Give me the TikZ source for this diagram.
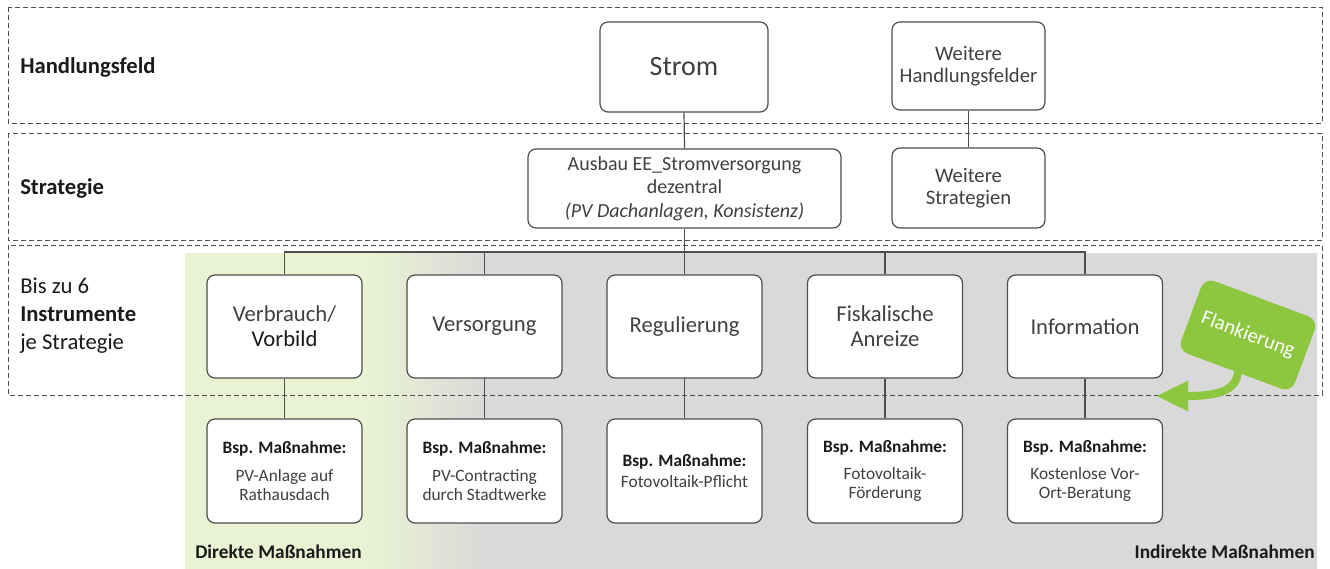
\documentclass[tikz,border=0pt]{standalone}
\usepackage{fontspec}
\setmainfont{Carlito}
\usetikzlibrary{arrows.meta}
\definecolor{lgreen}{HTML}{E9F2D2}
\definecolor{lgray}{HTML}{D9D9D9}
\definecolor{fgreen}{HTML}{8DC63F}
\definecolor{bord}{HTML}{4D4D4D}
\definecolor{txt}{HTML}{404040}
\definecolor{dashc}{HTML}{505050}
\definecolor{lbl}{HTML}{1A1A1A}
\begin{document}
\begin{tikzpicture}[x=0.75pt,y=-0.75pt,
  band/.style={draw=dashc,line width=0.75pt,dash pattern=on 3.75pt off 2.25pt},
  box/.style={draw=bord,line width=0.9pt,fill=white,rounded corners=6pt,align=center,text=txt,inner sep=2pt},
  topbox/.style={box,font=\fontsize{21}{25}\selectfont,minimum width=126pt,minimum height=67.5pt},
  sidebox/.style={box,font=\fontsize{15.5}{16.5}\selectfont,minimum width=114.75pt,minimum height=60pt},
  instr/.style={box,font=\fontsize{17}{19}\selectfont,minimum width=116.25pt,minimum height=77.25pt},
  mbox/.style={box,font=\fontsize{13}{14.5}\selectfont,minimum width=116.25pt,minimum height=78pt},
  lab/.style={anchor=west,inner sep=0pt,text=lbl,align=left,font=\fontsize{17}{21}\selectfont},
  conn/.style={draw=bord,line width=0.9pt},
  foot/.style={inner sep=0pt,text=lbl,font=\fontsize{14.5}{17}\selectfont\bfseries}
]
\useasboundingbox (0,0) rectangle (1330,568);
% backgrounds
\begin{scope}
  \clip (185,253) rectangle (1317,568);
  \fill[lgray] (180,245) rectangle (1320,575);
  \fill[lgreen] (180,245) rectangle (372,575);
  \shade[left color=lgreen,right color=lgray] (370,245) rectangle (486,575);
\end{scope}
% dashed bands
\draw[band] (8,7) rectangle (1322,123);
\draw[band] (8,133) rectangle (1322,240);
\draw[band] (8,245) rectangle (1322,395);
% row labels
\node[lab,font=\fontsize{17}{21}\selectfont\bfseries] (lhf) at (20,67) {Handlungsfeld};
\node[lab,font=\fontsize{17}{21}\selectfont\bfseries] (lst) at (20,188) {Strategie};
\node[lab] (lin) at (20,316) {Bis zu 6\\\textbf{Instrumente}\\je Strategie};
% top nodes
\node[topbox] (strom) at (684,67) {Strom};
\node[sidebox,minimum height=66pt] (whf) at (968.5,66) {Weitere\\Handlungsfelder};
\node[box,font=\fontsize{15}{17.5}\selectfont,minimum width=234.75pt,minimum height=59.25pt] (ausbau) at (684.5,188.5)
  {Ausbau EE\_Stromversorgung\\dezentral\\\textit{(PV Dachanlagen, Konsistenz)}};
\node[sidebox] (wst) at (968.5,188) {Weitere\\Strategien};
% connectors top
\draw[conn] (strom.south) -- (ausbau.north);
\draw[conn] (whf.south) -- (wst.north);
\coordinate (bus) at (684.5,252);
% instruments
\node[instr] (i1) at (284.5,326.5) {Verbrauch/\\{\color{lbl}Vorbild}};
\node[instr] (i2) at (484.5,326.5) {Versorgung};
\node[instr] (i3) at (684.5,326.5) {Regulierung};
\node[instr] (i4) at (885,326.5) {Fiskalische\\Anreize};
\node[instr] (i5) at (1085,326.5) {Information};
% measures
\node[mbox] (m1) at (284.5,471) {{\bfseries\color{lbl}Bsp. Maßnahme:}\\[6pt]PV-Anlage auf\\Rathausdach};
\node[mbox] (m2) at (484.5,471) {{\bfseries\color{lbl}Bsp. Maßnahme:}\\[6pt]PV-Contracting\\durch Stadtwerke};
\node[mbox] (m3) at (684.5,471) {{\bfseries\color{lbl}Bsp. Maßnahme:}\\[1pt]Fotovoltaik-Pflicht};
\node[mbox] (m4) at (885,471) {{\bfseries\color{lbl}Bsp. Maßnahme:}\\[6pt]Fotovoltaik-\\Förderung};
\node[mbox] (m5) at (1085,471) {{\bfseries\color{lbl}Bsp. Maßnahme:}\\[6pt]Kostenlose Vor-\\Ort-Beratung};
% connectors
\draw[conn] (ausbau.south) -- (bus);
\foreach \k in {1,...,5}{
  \draw[conn] (bus) -| (i\k.north);
  \draw[conn] (i\k.south) -- (m\k.north);
}
% flankierung
\node[fill=fgreen,rounded corners=8pt,rotate=-20.5,minimum width=91pt,minimum height=58pt,
      text=white,font=\fontsize{15.5}{17}\selectfont] (flank) at (1248,335) {Flankierung};
\coordinate (ftip) at (1156,396);
\draw[fgreen,line width=6pt,-{Triangle[length=24pt,width=21pt]}]
  (1238,372) .. controls (1236,392) and (1215,396) .. (ftip);
% footers
\node[foot,anchor=base west] (direkt) at (195,558) {Direkte Maßnahmen};
\node[foot,anchor=base east] (indirekt) at (1315,558) {Indirekte Maßnahmen};
\end{tikzpicture}
\end{document}
